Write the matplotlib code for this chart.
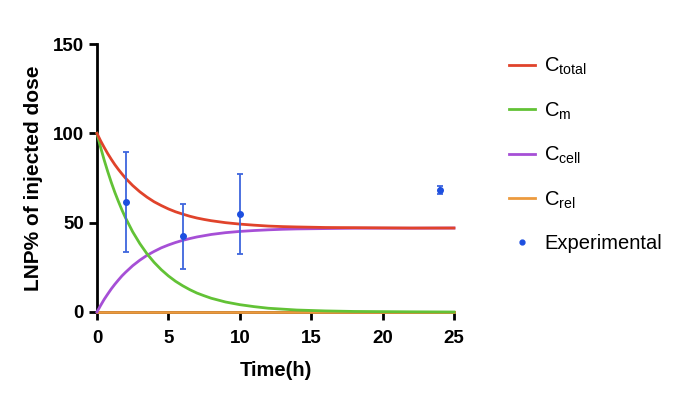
import numpy as np
import matplotlib.pyplot as plt
from matplotlib.lines import Line2D

plt.rcParams['font.family'] = ['Liberation Sans', 'DejaVu Sans']
plt.rcParams['mathtext.fontset'] = 'custom'
plt.rcParams['mathtext.rm'] = 'Liberation Sans'
plt.rcParams['mathtext.it'] = 'Liberation Sans'

# Model curves
t = [0, 0.25, 0.5, 0.75, 1, 1.25, 1.5, 1.75, 2, 2.5, 3, 3.5, 4, 4.5, 5, 5.5, 6,
     6.5, 7, 7.5, 8, 9, 10, 11, 12, 13, 14, 16, 18, 20, 22, 25]
c_total = [100, 95.9, 92.2, 88.7, 85.5, 82.5, 79.8, 77.3, 74.9, 70.8, 67.3, 64.3,
           61.7, 59.6, 57.7, 56.1, 54.8, 53.6, 52.6, 51.8, 51.1, 50.0, 49.2, 48.6,
           48.1, 47.8, 47.6, 47.3, 47.2, 47.1, 47.0, 47.0]
c_m = [100, 92.3, 85.2, 78.7, 72.6, 67.0, 61.9, 57.1, 52.7, 44.9, 38.3, 32.6,
       27.8, 23.7, 20.2, 17.2, 14.7, 12.5, 10.6, 9.1, 7.7, 5.6, 4.1, 3.0,
       2.1, 1.6, 1.1, 0.6, 0.3, 0.2, 0.1, 0.0]
c_cell = [0, 3.6, 7.0, 10.0, 12.9, 15.5, 17.9, 20.2, 22.2, 25.9, 29.0, 31.7,
          33.9, 35.9, 37.5, 38.9, 40.1, 41.1, 42.0, 42.7, 43.4, 44.4, 45.1, 45.6,
          46.0, 46.3, 46.5, 46.7, 46.9, 46.9, 46.9, 47.0]
c_rel = [0] * len(t)

# Experimental data
t_exp = [2, 6, 10, 24]
y_exp = [61.4, 42.3, 55.0, 68.2]
err_exp = [28.0, 18.3, 22.4, 2.2]

red = '#e0432b'
green = '#62c236'
purple = '#a64fd6'
orange = '#ec9a3e'
blue = '#1d4fe0'

fig = plt.figure(figsize=(6.8, 3.98), dpi=100)
ax = fig.add_axes([0.1426, 0.2161, 0.525, 0.6733])

ax.plot(t, c_rel, color=orange, lw=2, clip_on=False, zorder=3)
ax.plot(t, c_cell, color=purple, lw=2, clip_on=False, zorder=4)
ax.plot(t, c_m, color=green, lw=2, clip_on=False, zorder=5)
ax.plot(t, c_total, color=red, lw=2, clip_on=False, zorder=6)
ax.errorbar(t_exp, y_exp, yerr=err_exp, fmt='o', color=blue, ecolor='#3e66dd',
            ms=4, elinewidth=1.3, capsize=2.4, capthick=1.3, zorder=7)

ax.set_xlim(0, 25)
ax.set_ylim(0, 150)
ax.set_xticks([0, 5, 10, 15, 20, 25])
ax.set_yticks([0, 50, 100, 150])
for s in ['top', 'right']:
    ax.spines[s].set_visible(False)
for s in ['left', 'bottom']:
    ax.spines[s].set_linewidth(2)
ax.tick_params(width=2, length=6, labelsize=13.5)
ax.tick_params(axis='x', pad=7)
for lab in ax.get_xticklabels() + ax.get_yticklabels():
    lab.set_fontweight('bold')

ax.set_xlabel('Time(h)', fontsize=14.5, fontweight='bold', labelpad=10)
ax.set_ylabel('LNP% of injected dose', fontsize=15, fontweight='bold', labelpad=7)

handles = [
    Line2D([], [], color=red, lw=2),
    Line2D([], [], color=green, lw=2),
    Line2D([], [], color=purple, lw=2),
    Line2D([], [], color=orange, lw=2),
    Line2D([], [], color=blue, marker='o', ms=3.5, ls='none'),
]
labels = [r'C$_{\mathrm{total}}$', r'C$_{\mathrm{m}}$', r'C$_{\mathrm{cell}}$',
          r'C$_{\mathrm{rel}}$', 'Experimental']
fig.legend(handles, labels, loc='upper left', bbox_to_anchor=(0.722, 0.905),
           frameon=False, fontsize=14.5, handlelength=1.3, handletextpad=0.45,
           labelspacing=1.15)

fig.savefig('out.png', dpi=100)
